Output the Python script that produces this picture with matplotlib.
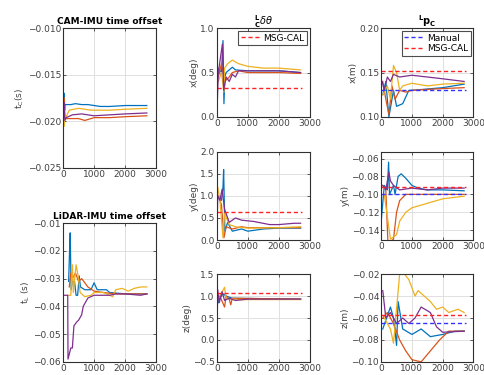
import matplotlib
matplotlib.use("Agg")
import matplotlib.pyplot as plt

# MATLAB default line colours
BLUE, ORANGE, YELLOW, PURPLE = "#0072BD", "#D95319", "#EDB120", "#7E2F8E"

# ---- CAM-IMU time offset (s) ----
cam_blue_t = [40, 50, 60, 100, 250, 400, 600, 800, 1200, 1500, 2000, 2400, 2700]
cam_blue_v = [-0.017, -0.0188, -0.0182, -0.0182, -0.0182, -0.0181, -0.0182, -0.0182, -0.0184, -0.0184, -0.0183, -0.0183, -0.0183]
cam_orange_t = [40, 50, 60, 100, 300, 500, 700, 1000, 1500, 2000, 2700]
cam_orange_v = [-0.0175, -0.0188, -0.0195, -0.0197, -0.0197, -0.0197, -0.0199, -0.0196, -0.0196, -0.0195, -0.0194]
cam_yellow_t = [40, 50, 60, 100, 200, 500, 900, 1500, 2000, 2700]
cam_yellow_v = [-0.0205, -0.0192, -0.0197, -0.0195, -0.0188, -0.0186, -0.0188, -0.0188, -0.0187, -0.0186]
cam_purple_t = [40, 50, 60, 100, 300, 600, 1000, 1500, 2000, 2700]
cam_purple_v = [-0.018, -0.0195, -0.0199, -0.0196, -0.0193, -0.0192, -0.0194, -0.0193, -0.0192, -0.0191]

# ---- LiDAR-IMU time offset (s) ----
lid_blue_t = [180, 210, 230, 260, 300, 370, 420, 470, 520, 560, 700, 900, 1000, 1100, 1400, 1500, 2000, 2700]
lid_blue_v = [-0.031, -0.020, -0.0135, -0.034, -0.031, -0.031, -0.036, -0.036, -0.029, -0.033, -0.034, -0.034, -0.0315, -0.034, -0.034, -0.035, -0.0355, -0.0355]
lid_orange_t = [200, 250, 300, 400, 500, 600, 800, 1000, 1300, 1700, 2700]
lid_orange_v = [-0.033, -0.028, -0.030, -0.028, -0.031, -0.030, -0.033, -0.0345, -0.035, -0.0355, -0.0355]
lid_yellow_t = [150, 250, 300, 330, 420, 500, 550, 700, 900, 1000, 1300, 1500, 1600, 1700, 1900, 2100, 2300, 2500, 2700]
lid_yellow_v = [-0.036, -0.036, -0.025, -0.035, -0.025, -0.030, -0.035, -0.0365, -0.036, -0.035, -0.035, -0.036, -0.0365, -0.034, -0.0335, -0.0345, -0.0335, -0.033, -0.033]
lid_purple_t = [0, 150, 160, 250, 300, 350, 450, 500, 600, 650, 700, 800, 1000, 1500, 1700, 2000, 2500, 2700]
lid_purple_v = [-0.036, -0.036, -0.059, -0.055, -0.055, -0.047, -0.0455, -0.045, -0.043, -0.040, -0.039, -0.037, -0.036, -0.036, -0.0355, -0.0355, -0.036, -0.0355]

# ---- L_C delta theta (deg) ----
rx_blue_t = [50, 150, 200, 230, 260, 300, 500, 600, 1000, 2000, 2700]
rx_blue_v = [0.55, 0.5, 0.86, 0.15, 0.45, 0.5, 0.56, 0.53, 0.52, 0.52, 0.5]
rx_orange_t = [50, 150, 250, 400, 500, 700, 1000, 2000, 2700]
rx_orange_v = [0.45, 0.6, 0.4, 0.45, 0.5, 0.52, 0.5, 0.5, 0.49]
rx_yellow_t = [50, 150, 230, 250, 350, 500, 700, 1000, 1500, 2000, 2700]
rx_yellow_v = [0.4, 0.5, 0.28, 0.55, 0.6, 0.64, 0.6, 0.57, 0.55, 0.55, 0.53]
rx_purple_t = [0, 50, 180, 220, 300, 400, 500, 600, 700, 1000, 2000, 2700]
rx_purple_v = [0.0, 0.5, 0.82, 0.3, 0.45, 0.4, 0.48, 0.45, 0.52, 0.52, 0.52, 0.5]
rx_msg = 0.33

ry_blue_t = [50, 150, 200, 220, 260, 350, 500, 800, 1000, 1500, 2000, 2700]
ry_blue_v = [1.0, 0.9, 1.2, 1.6, 0.2, 0.4, 0.2, 0.25, 0.2, 0.25, 0.27, 0.27]
ry_orange_t = [50, 150, 230, 300, 500, 800, 1000, 2700]
ry_orange_v = [1.0, 0.8, 0.05, 0.3, 0.25, 0.3, 0.28, 0.28]
ry_yellow_t = [30, 100, 200, 250, 400, 600, 1000, 2000, 2700]
ry_yellow_v = [1.2, 0.9, 0.05, 0.6, 0.35, 0.3, 0.27, 0.28, 0.3]
ry_purple_t = [0, 30, 100, 170, 250, 300, 400, 500, 600, 800, 1200, 1700, 2000, 2500, 2700]
ry_purple_v = [0.0, 1.0, 0.9, 1.15, 0.7, 0.6, 0.4, 0.45, 0.5, 0.45, 0.42, 0.35, 0.35, 0.38, 0.38]
ry_msg = 0.63

rz_blue_t = [50, 100, 200, 300, 500, 2700]
rz_blue_v = [0.85, 0.95, 1.05, 1.0, 0.95, 0.93]
rz_orange_t = [100, 250, 300, 400, 450, 500, 2700]
rz_orange_v = [1.0, 0.75, 1.0, 0.93, 0.8, 0.95, 0.93]
rz_yellow_t = [100, 250, 300, 700, 2700]
rz_yellow_v = [1.0, 1.2, 0.95, 0.92, 0.92]
rz_purple_t = [0, 30, 80, 170, 250, 400, 600, 1000, 2700]
rz_purple_v = [0.0, 1.15, 0.85, 1.1, 0.9, 0.95, 0.9, 0.93, 0.93]
rz_msg = 1.08

# ---- L p_C (m) ----
px_blue_t = [50, 150, 250, 400, 500, 700, 900, 1000, 2000, 2700]
px_blue_v = [0.125, 0.14, 0.1, 0.13, 0.112, 0.115, 0.13, 0.13, 0.133, 0.137]
px_orange_t = [50, 150, 250, 350, 450, 600, 800, 1000, 2000, 2700]
px_orange_v = [0.14, 0.12, 0.103, 0.135, 0.12, 0.13, 0.128, 0.13, 0.132, 0.133]
px_yellow_t = [50, 200, 300, 400, 500, 600, 700, 1000, 1500, 2000, 2700]
px_yellow_v = [0.125, 0.135, 0.12, 0.158, 0.15, 0.13, 0.135, 0.138, 0.135, 0.137, 0.138]
px_purple_t = [30, 100, 200, 300, 400, 600, 1000, 1500, 2000, 2700]
px_purple_v = [0.14, 0.13, 0.145, 0.14, 0.148, 0.145, 0.147, 0.145, 0.143, 0.14]
px_manual, px_msg = 0.13, 0.152

py_blue_t = [0, 100, 200, 240, 270, 400, 450, 550, 650, 800, 1000, 1200, 1500, 2000, 2700]
py_blue_v = [-0.13, -0.09, -0.095, -0.064, -0.1, -0.09, -0.1, -0.08, -0.077, -0.082, -0.09, -0.093, -0.095, -0.095, -0.096]
py_orange_t = [50, 150, 220, 400, 500, 600, 800, 1000, 2000, 2700]
py_orange_v = [-0.09, -0.095, -0.155, -0.15, -0.12, -0.107, -0.1, -0.1, -0.1, -0.1]
py_yellow_t = [100, 300, 500, 600, 800, 1000, 1500, 2000, 2700]
py_yellow_v = [-0.1, -0.15, -0.145, -0.13, -0.12, -0.115, -0.11, -0.105, -0.102]
py_purple_t = [50, 150, 250, 300, 400, 600, 1000, 1500, 2000, 2700]
py_purple_v = [-0.09, -0.095, -0.075, -0.085, -0.09, -0.095, -0.093, -0.095, -0.093, -0.093]
py_manual, py_msg = -0.1, -0.092

pz_blue_t = [50, 300, 400, 500, 550, 700, 1000, 1300, 1600, 2000, 2400, 2700]
pz_blue_v = [-0.07, -0.05, -0.06, -0.085, -0.045, -0.07, -0.075, -0.07, -0.077, -0.075, -0.072, -0.072]
pz_orange_t = [50, 200, 400, 600, 800, 1000, 1300, 1600, 1900, 2200, 2700]
pz_orange_v = [-0.06, -0.055, -0.065, -0.08, -0.09, -0.098, -0.1, -0.09, -0.08, -0.072, -0.072]
pz_yellow_t = [100, 300, 400, 600, 700, 900, 1100, 1200, 1400, 1600, 1800, 2000, 2200, 2500, 2700]
pz_yellow_v = [-0.06, -0.07, -0.083, -0.02, -0.018, -0.025, -0.04, -0.035, -0.04, -0.045, -0.052, -0.05, -0.055, -0.052, -0.055]
pz_purple_t = [50, 150, 300, 500, 700, 900, 1100, 1300, 1600, 1800, 2000, 2700]
pz_purple_v = [-0.035, -0.06, -0.055, -0.065, -0.06, -0.065, -0.06, -0.05, -0.055, -0.068, -0.073, -0.072]
pz_manual, pz_msg = -0.065, -0.057

plt.rcParams["font.family"] = "DejaVu Sans"
plt.rcParams["font.size"] = 6.5

fig = plt.figure(figsize=(4.85, 3.75), dpi=100)
TXT = "#404040"


def style(ax, ylim, yticks, ylabel):
    ax.set_xlim(0, 3000)
    ax.set_xticks([0, 1000, 2000, 3000])
    ax.set_ylim(*ylim)
    ax.set_yticks(yticks)
    ax.grid(True, color="#e0e0e0", linewidth=0.7)
    ax.set_axisbelow(True)
    ax.tick_params(colors=TXT, labelsize=6.5, length=2, width=0.6, pad=1.5,
                   direction="in", top=True, right=True)
    for s in ax.spines.values():
        s.set_color("#303030")
        s.set_linewidth(0.8)
    ax.set_ylabel(ylabel, color=TXT, fontsize=6.5, labelpad=1)


def draw(ax, series):
    for t, v, c in series:
        ax.plot(t, v, color=c, lw=0.9)


def ref_lines(ax, manual=None, msg=None, legend=True):
    if manual is not None:
        ax.axhline(manual, xmin=0, xmax=2750 / 3000, color="#3333ff", ls="--", lw=1.0,
                   dashes=(3, 2), label="Manual")
    ax.axhline(msg, xmin=0, xmax=2750 / 3000, color="#ff2222", ls="--", lw=1.0,
               dashes=(3, 2), label="MSG-CAL")
    if legend:
        leg = ax.legend(loc="upper right", fontsize=6.5, fancybox=False,
                        handlelength=2.2, borderpad=0.3, labelspacing=0.2,
                        handletextpad=0.3, borderaxespad=0.3)
        leg.get_frame().set_edgecolor("#202020")
        leg.get_frame().set_linewidth(0.8)


# column 1
ax = fig.add_axes([0.130, 0.552, 0.192, 0.373])
draw(ax, [(cam_blue_t, cam_blue_v, BLUE), (cam_orange_t, cam_orange_v, ORANGE),
          (cam_yellow_t, cam_yellow_v, YELLOW), (cam_purple_t, cam_purple_v, PURPLE)])
style(ax, (-0.025, -0.01), [-0.025, -0.02, -0.015, -0.01], r"$\mathrm{t_C}$(s)")
ax.set_title("CAM-IMU time offset", fontsize=6.5, fontweight="bold", pad=3)

ax = fig.add_axes([0.130, 0.035, 0.192, 0.370])
draw(ax, [(lid_blue_t, lid_blue_v, BLUE), (lid_orange_t, lid_orange_v, ORANGE),
          (lid_yellow_t, lid_yellow_v, YELLOW), (lid_purple_t, lid_purple_v, PURPLE)])
style(ax, (-0.06, -0.01), [-0.06, -0.05, -0.04, -0.03, -0.02, -0.01], r"$\mathrm{t_L}$ (s)")
ax.set_title("LiDAR-IMU time offset", fontsize=6.5, fontweight="bold", pad=3)

# column 2
ax = fig.add_axes([0.447, 0.688, 0.192, 0.237])
draw(ax, [(rx_blue_t, rx_blue_v, BLUE), (rx_orange_t, rx_orange_v, ORANGE),
          (rx_yellow_t, rx_yellow_v, YELLOW), (rx_purple_t, rx_purple_v, PURPLE)])
style(ax, (0, 1), [0, 0.5, 1], "x(deg)")
ref_lines(ax, msg=rx_msg)
ax.set_title(r"$^{\mathbf{L}}_{\mathbf{C}}\delta\theta$", fontsize=7, pad=2)

ax = fig.add_axes([0.447, 0.360, 0.192, 0.235])
draw(ax, [(ry_blue_t, ry_blue_v, BLUE), (ry_orange_t, ry_orange_v, ORANGE),
          (ry_yellow_t, ry_yellow_v, YELLOW), (ry_purple_t, ry_purple_v, PURPLE)])
style(ax, (0, 2), [0, 0.5, 1, 1.5, 2], "y(deg)")
ref_lines(ax, msg=ry_msg, legend=False)

ax = fig.add_axes([0.447, 0.035, 0.192, 0.234])
draw(ax, [(rz_blue_t, rz_blue_v, BLUE), (rz_orange_t, rz_orange_v, ORANGE),
          (rz_yellow_t, rz_yellow_v, YELLOW), (rz_purple_t, rz_purple_v, PURPLE)])
style(ax, (-0.5, 1.5), [-0.5, 0, 0.5, 1, 1.5], "z(deg)")
ref_lines(ax, msg=rz_msg, legend=False)

# column 3
ax = fig.add_axes([0.786, 0.688, 0.190, 0.237])
draw(ax, [(px_blue_t, px_blue_v, BLUE), (px_orange_t, px_orange_v, ORANGE),
          (px_yellow_t, px_yellow_v, YELLOW), (px_purple_t, px_purple_v, PURPLE)])
style(ax, (0.1, 0.2), [0.1, 0.15, 0.2], "x(m)")
ref_lines(ax, manual=px_manual, msg=px_msg)
ax.set_title(r"$^{\mathbf{L}}\mathbf{p}_{\mathbf{C}}$", fontsize=7, pad=2)

ax = fig.add_axes([0.786, 0.360, 0.190, 0.235])
draw(ax, [(py_blue_t, py_blue_v, BLUE), (py_orange_t, py_orange_v, ORANGE),
          (py_yellow_t, py_yellow_v, YELLOW), (py_purple_t, py_purple_v, PURPLE)])
style(ax, (-0.151, -0.0525), [-0.14, -0.12, -0.1, -0.08, -0.06], "y(m)")
ref_lines(ax, manual=py_manual, msg=py_msg, legend=False)

ax = fig.add_axes([0.786, 0.035, 0.190, 0.234])
draw(ax, [(pz_blue_t, pz_blue_v, BLUE), (pz_orange_t, pz_orange_v, ORANGE),
          (pz_yellow_t, pz_yellow_v, YELLOW), (pz_purple_t, pz_purple_v, PURPLE)])
style(ax, (-0.1, -0.02), [-0.1, -0.08, -0.06, -0.04, -0.02], "z(m)")
ref_lines(ax, manual=pz_manual, msg=pz_msg, legend=False)

fig.savefig("out.png", dpi=100)
